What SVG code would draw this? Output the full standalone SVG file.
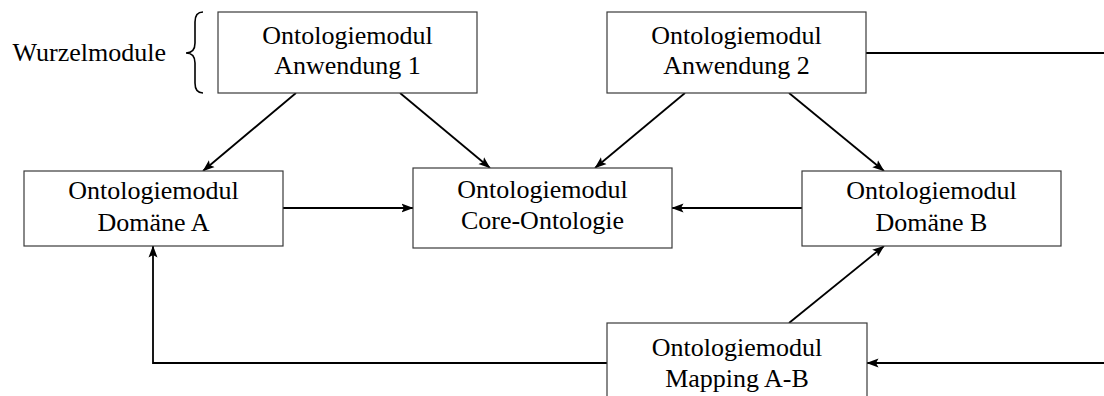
<svg xmlns="http://www.w3.org/2000/svg" width="1104" height="396" viewBox="0 0 1104 396">
  <style>
    .box { fill: #ffffff; stroke: #3a3a3a; stroke-width: 1.2; }
    .lbl { font-family: "Liberation Serif", "Times New Roman", serif; font-size: 26px; fill: #000000; text-anchor: middle; }
    .edge { fill: none; stroke: #000000; stroke-width: 1.8; }
    .arr { marker-end: url(#head); }
  </style>
  <defs>
    <marker id="head" viewBox="0 0 12 10" refX="11.5" refY="5" markerWidth="12" markerHeight="10" markerUnits="userSpaceOnUse" orient="auto">
      <path d="M0,0.5 L12,5 L0,9.5 L2.5,5 Z" fill="#000000"/>
    </marker>
  </defs>
  <rect width="1104" height="396" fill="#ffffff"/>

  <!-- bracket label for the root modules -->
  <g id="wurzel">
    <text class="lbl" x="166" y="61" text-anchor="end" style="text-anchor:end">Wurzelmodule</text>
    <path d="M203,12 C197,12 195,16 195,22 L195,43 C195,49 192,53 186,53 C192,53 195,57 195,63 L195,83 C195,89 197,93 203,93" fill="none" stroke="#000000" stroke-width="1.6"/>
  </g>

  <!-- connectors -->
  <g id="connectors">
    <line class="edge arr" x1="296" y1="93" x2="203" y2="171"/>
    <line class="edge arr" x1="400" y1="93" x2="490" y2="168"/>
    <line class="edge arr" x1="685" y1="93" x2="595" y2="168"/>
    <line class="edge arr" x1="789" y1="93" x2="884" y2="171"/>
    <line class="edge arr" x1="283" y1="208" x2="413" y2="208"/>
    <line class="edge arr" x1="802" y1="208" x2="672" y2="208"/>
    <line class="edge arr" x1="789" y1="323" x2="884" y2="246"/>
    <polyline class="edge arr" points="607,363 153,363 153,246"/>
    <line class="edge arr" x1="1104" y1="363" x2="867" y2="363"/>
    <line class="edge" x1="866" y1="53" x2="1104" y2="53"/>
  </g>

  <g id="anwendung1">
    <rect class="box" x="218" y="12" width="259" height="81"/>
    <text class="lbl" x="347.5" y="44">Ontologiemodul</text>
    <text class="lbl" x="347.5" y="74">Anwendung 1</text>
  </g>

  <g id="anwendung2">
    <rect class="box" x="607" y="12" width="259" height="81"/>
    <text class="lbl" x="736.5" y="44">Ontologiemodul</text>
    <text class="lbl" x="736.5" y="74">Anwendung 2</text>
  </g>

  <g id="domaeneA">
    <rect class="box" x="24" y="171" width="259" height="75"/>
    <text class="lbl" x="153.5" y="199">Ontologiemodul</text>
    <text class="lbl" x="153.5" y="231">Domäne A</text>
  </g>

  <g id="core">
    <rect class="box" x="413" y="168" width="259" height="80"/>
    <text class="lbl" x="542.5" y="198">Ontologiemodul</text>
    <text class="lbl" x="542.5" y="229">Core-Ontologie</text>
  </g>

  <g id="domaeneB">
    <rect class="box" x="802" y="171" width="259" height="75"/>
    <text class="lbl" x="931.5" y="199">Ontologiemodul</text>
    <text class="lbl" x="931.5" y="231">Domäne B</text>
  </g>

  <g id="mapping">
    <rect class="box" x="607" y="323" width="260" height="80"/>
    <text class="lbl" x="737" y="356">Ontologiemodul</text>
    <text class="lbl" x="737" y="387">Mapping A-B</text>
  </g>
</svg>
